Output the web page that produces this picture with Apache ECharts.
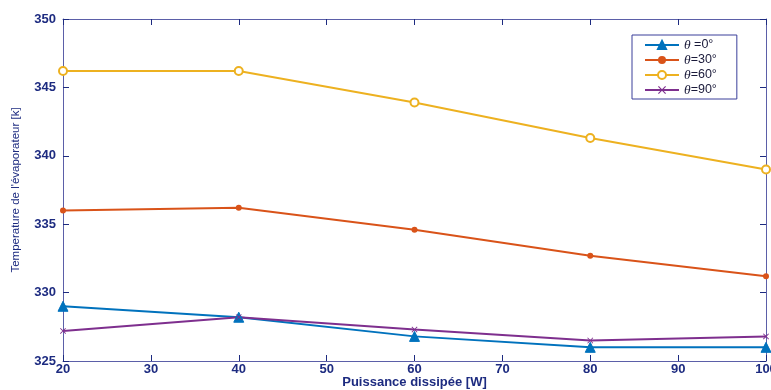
<!DOCTYPE html>
<html><head><meta charset="utf-8">
<script src="https://cdn.jsdelivr.net/npm/echarts@6/dist/echarts.min.js"></script>
<style>html,body{margin:0;padding:0;background:#fff}#c{width:771px;height:390px}</style>
</head><body><div id="c"></div>
<script>
const categories = [20, 40, 60, 80, 100];
const theta0 = [329.0, 328.2, 326.8, 326.0, 326.0];
const theta30 = [336.0, 336.2, 334.6, 332.7, 331.2];
const theta60 = [346.2, 346.2, 343.9, 341.3, 339.0];
const theta90 = [327.2, 328.2, 327.3, 326.5, 326.8];
const seriesNames = ['θ =0°', 'θ=30°', 'θ=60°', 'θ=90°'];
const xLabel = 'Puissance dissipée [W]';
const yLabel = "Temperature de l'évaporateur [k]";

const navy = '#1d2b80';
const axisCol = '#5b5fa8';
const colors = ['#0072BD', '#D95319', '#EDB120', '#7E2F8E'];
const xPath = 'path://M0,1L1,0L5,4L9,0L10,1L6,5L10,9L9,10L5,6L1,10L0,9L4,5Z';

function pts(arr){ return categories.map((x,i)=>[x,arr[i]]); }

const chart = echarts.init(document.getElementById('c'), null, {renderer:'canvas'});
const axisBase = {
  axisLine:{show:true, onZero:false, lineStyle:{color:axisCol, width:1}},
  axisTick:{show:true, inside:true, length:6, lineStyle:{color:navy}},
  splitLine:{show:false}
};
chart.setOption({
  animation:false,
  color: colors,
  grid:{left:63, right:5, top:19, bottom:29, outerBoundsMode:'none', containLabel:false},
  legend:{
    left:632, top:35, orient:'vertical',
    padding:[3,20,2,12], itemGap:1, itemWidth:34, itemHeight:10,
    borderColor:'#3a3f9a', borderWidth:1, backgroundColor:'#fff',
    textStyle:{fontFamily:'Liberation Sans', fontSize:12.5, color:'#1a1a3a', lineHeight:14,
      rich:{t:{fontStyle:'italic', fontFamily:'Liberation Serif', fontSize:13.5, color:'#1a1a3a', lineHeight:14}}},
    formatter: n => '{t|θ}' + n.slice(1),
    data: seriesNames
  },
  xAxis:[
    Object.assign({type:'value', min:20, max:100, interval:10, position:'bottom',
      name:xLabel, nameLocation:'middle', nameGap:15, nameMoveOverlap:false,
      nameTextStyle:{color:navy, fontWeight:'bold', fontSize:13, fontFamily:'Liberation Sans'},
      axisLabel:{color:navy, fontWeight:'bold', fontSize:13, margin:2, fontFamily:'Liberation Sans'}}, axisBase),
    Object.assign({type:'value', min:20, max:100, interval:10, position:'top', axisLabel:{show:false}}, axisBase)
  ],
  yAxis:[
    Object.assign({type:'value', min:325, max:350, interval:5, position:'left',
      name:yLabel, nameLocation:'middle', nameGap:41, nameMoveOverlap:false,
      nameTextStyle:{color:navy, fontSize:11.5, fontFamily:'Liberation Sans'},
      axisLabel:{color:navy, fontWeight:'bold', fontSize:13, margin:7, fontFamily:'Liberation Sans'}}, axisBase),
    Object.assign({type:'value', min:325, max:350, interval:5, position:'right', axisLabel:{show:false}}, axisBase)
  ],
  series:[
    {name:seriesNames[0], type:'line', data:pts(theta0), symbol:'triangle', symbolSize:10,
      lineStyle:{width:2, color:colors[0]}, itemStyle:{color:colors[0], borderColor:colors[0], borderWidth:1}},
    {name:seriesNames[1], type:'line', data:pts(theta30), symbol:'circle', symbolSize:6,
      lineStyle:{width:2, color:colors[1]}, itemStyle:{color:colors[1]}},
    {name:seriesNames[2], type:'line', data:pts(theta60), symbol:'emptyCircle', symbolSize:8,
      lineStyle:{width:2, color:colors[2]}, itemStyle:{color:colors[2], borderWidth:2}},
    {name:seriesNames[3], type:'line', data:pts(theta90), symbol:xPath, symbolSize:6,
      lineStyle:{width:2, color:colors[3]}, itemStyle:{color:colors[3]}}
  ]
});
</script></body></html>
